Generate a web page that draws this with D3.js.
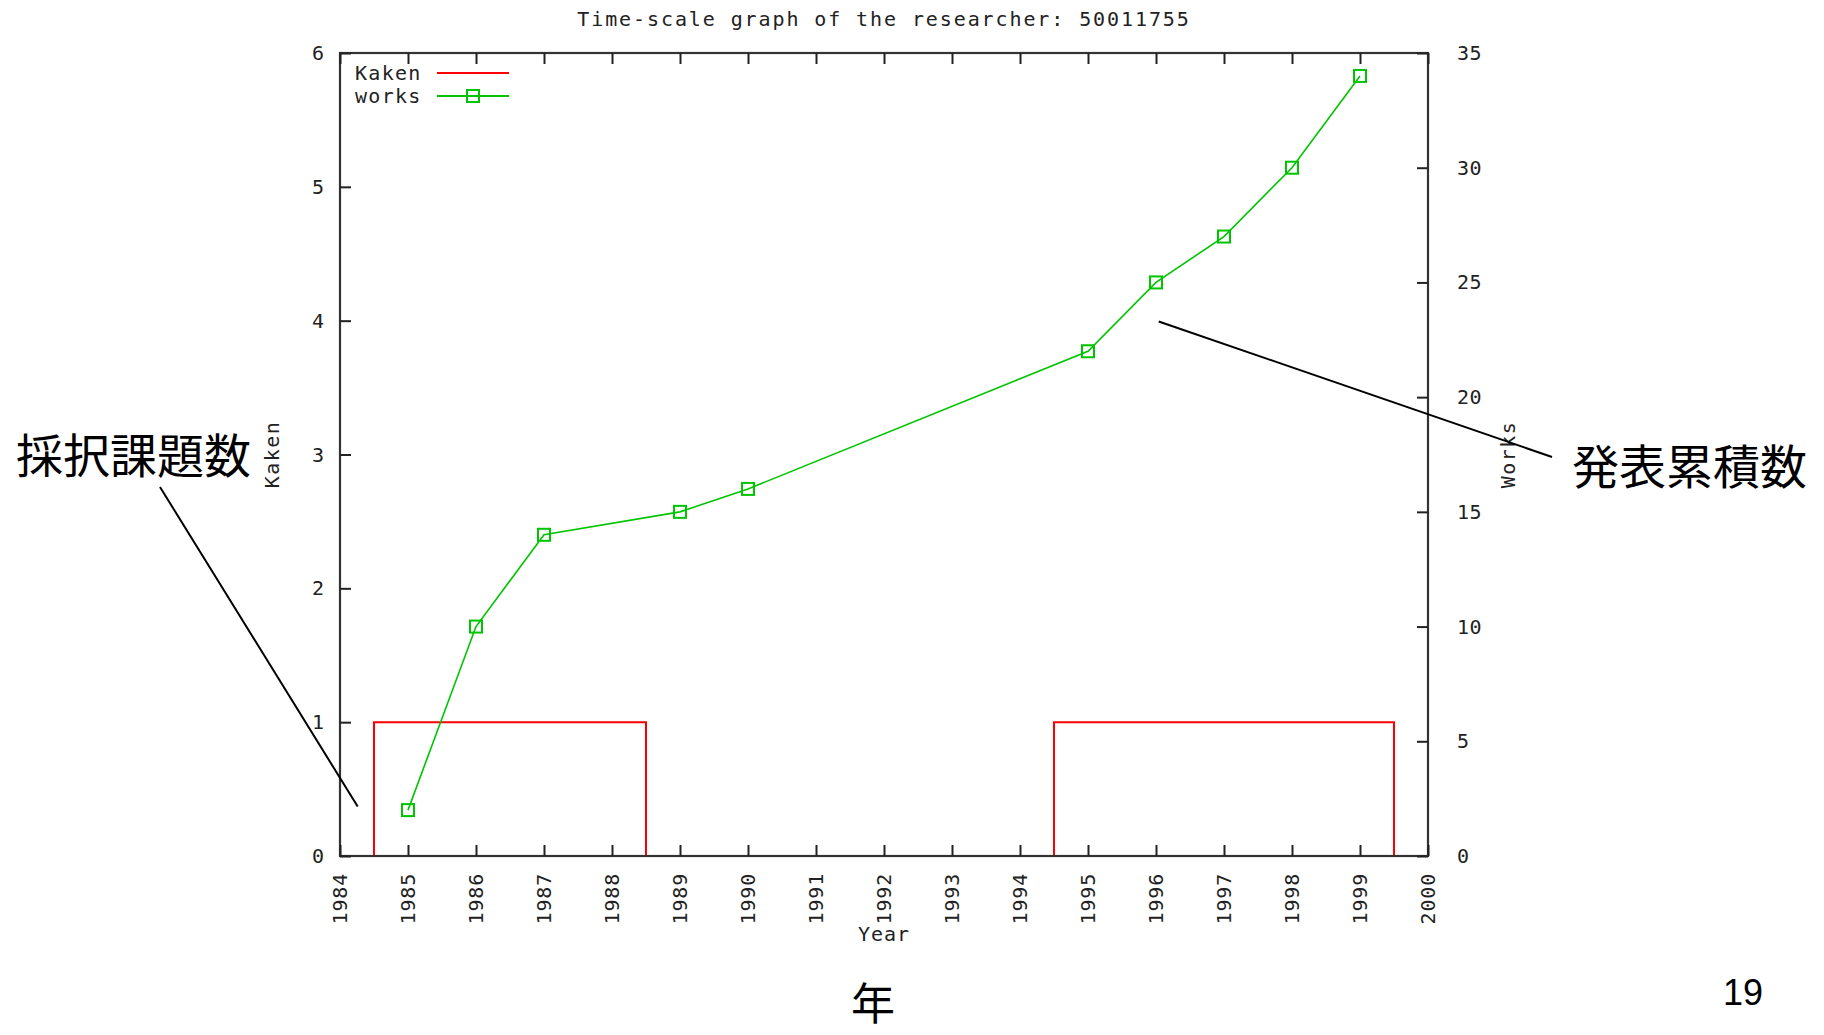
<!DOCTYPE html>
<html>
<head>
<meta charset="utf-8">
<script src="https://cdn.jsdelivr.net/npm/d3@7"></script>
<style>
  body { margin: 0; background: #fff; }
  svg { display: block; }
  .mono { font-family: "DejaVu Sans Mono", monospace; fill: #222; }
  .jp { font-family: "Noto Sans CJK JP", sans-serif; fill: #000; }
</style>
</head>
<body>
<svg id="chart" width="1824" height="1035"></svg>
<script>
// years covered by the plot and the number of Kaken grants per year
const kakenYears  = [1984, 1985, 1986, 1987, 1988, 1989, 1990, 1991, 1992, 1993, 1994, 1995, 1996, 1997, 1998, 1999, 2000];
const kakenCounts = [0, 1, 1, 1, 1, 0, 0, 0, 0, 0, 0, 1, 1, 1, 1, 1, 0];

// cumulative number of works
const worksYears  = [1985, 1986, 1987, 1989, 1990, 1995, 1996, 1997, 1998, 1999];
const worksTotals = [2, 10, 14, 15, 16, 22, 25, 27, 30, 34];

const yearTicks  = [1984, 1985, 1986, 1987, 1988, 1989, 1990, 1991, 1992, 1993, 1994, 1995, 1996, 1997, 1998, 1999, 2000];
const kakenTicks = [0, 1, 2, 3, 4, 5, 6];
const worksTicks = [0, 5, 10, 15, 20, 25, 30, 35];

const title = "Time-scale graph of the researcher: 50011755";

const svg = d3.select("#chart");
svg.append("rect").attr("width", 1824).attr("height", 1035).attr("fill", "#fff");

const margin = { top: 53, right: 396, bottom: 179, left: 340 };
const width = 1824 - margin.left - margin.right;
const height = 1035 - margin.top - margin.bottom;

const x = d3.scaleLinear().domain([1984, 2000]).range([0, width]);
const yK = d3.scaleLinear().domain([0, 6]).range([height, 0]);
const yW = d3.scaleLinear().domain([0, 35]).range([height, 0]);

const red = "#ff0000";
const green = "#00c400";
const tickLen = 11;

const g = svg.append("g")
    .attr("transform", `translate(${margin.left},${margin.top})`);

// Kaken: histogram-like steps
const kakenData = kakenYears.map((yr, i) => ({ yr, v: kakenCounts[i] }));
const kakenLine = d3.line()
    .x(d => x(d.yr))
    .y(d => yK(d.v))
    .curve(d3.curveStep);

g.append("path")
    .datum(kakenData)
    .attr("d", kakenLine)
    .attr("fill", "none")
    .attr("stroke", red)
    .attr("stroke-width", 2);

// works: cumulative line with open squares
const worksData = worksYears.map((yr, i) => ({ yr, v: worksTotals[i] }));
const worksLine = d3.line()
    .x(d => x(d.yr))
    .y(d => yW(d.v));

g.append("path")
    .datum(worksData)
    .attr("d", worksLine)
    .attr("fill", "none")
    .attr("stroke", green)
    .attr("stroke-width", 1.6);

const sq = 12;
g.selectAll(".pt").data(worksData)
    .enter()
    .append("rect")
    .attr("class", "pt")
    .attr("x", d => x(d.yr) - sq / 2)
    .attr("y", d => yW(d.v) - sq / 2)
    .attr("width", sq)
    .attr("height", sq)
    .attr("fill", "none")
    .attr("stroke", green)
    .attr("stroke-width", 2);

// frame
g.append("rect")
    .attr("width", width)
    .attr("height", height)
    .attr("fill", "none")
    .attr("stroke", "#333")
    .attr("stroke-width", 2.2);

// x ticks, bottom and mirrored on top
const xAxisB = d3.axisBottom(x).tickValues(yearTicks).tickSize(-tickLen).tickFormat("");
const xAxisT = d3.axisTop(x).tickValues(yearTicks).tickSize(-tickLen).tickFormat("");
const xB = g.append("g").attr("transform", `translate(0,${height})`).call(xAxisB);
const xT = g.append("g").call(xAxisT);
const yL = g.append("g").call(d3.axisLeft(yK).tickValues(kakenTicks).tickSize(-tickLen).tickFormat(""));
const yR = g.append("g").attr("transform", `translate(${width},0)`)
    .call(d3.axisRight(yW).tickValues(worksTicks).tickSize(-tickLen).tickFormat(""));

[xB, xT, yL, yR].forEach(a => {
    a.selectAll(".domain").remove();
    a.selectAll(".tick line").attr("stroke", "#222").attr("stroke-width", 2);
});

// tick labels
g.selectAll(".xl").data(yearTicks)
    .enter()
    .append("text")
    .attr("class", "mono")
    .attr("font-size", 20)
    .attr("letter-spacing", 0.8)
    .attr("text-anchor", "end")
    .attr("dy", "0.35em")
    .attr("transform", d => `translate(${x(d)},${height + 17}) rotate(-90)`)
    .text(d => d);

g.selectAll(".kl").data(kakenTicks)
    .enter()
    .append("text")
    .attr("class", "mono")
    .attr("font-size", 20)
    .attr("text-anchor", "end")
    .attr("x", -16)
    .attr("y", d => yK(d))
    .attr("dy", "0.35em")
    .text(d => d);

g.selectAll(".wl").data(worksTicks)
    .enter()
    .append("text")
    .attr("class", "mono")
    .attr("font-size", 20)
    .attr("letter-spacing", 0.5)
    .attr("x", width + 29)
    .attr("y", d => yW(d))
    .attr("dy", "0.35em")
    .text(d => d);

// axis labels and title
svg.append("text")
    .attr("class", "mono")
    .attr("font-size", 20)
    .attr("letter-spacing", 1.9)
    .attr("text-anchor", "middle")
    .attr("x", margin.left + width / 2)
    .attr("y", 26)
    .text(title);

svg.append("text")
    .attr("class", "mono")
    .attr("font-size", 20)
    .attr("letter-spacing", 1)
    .attr("text-anchor", "middle")
    .attr("x", margin.left + width / 2)
    .attr("y", 941)
    .text("Year");

g.append("text")
    .attr("class", "mono")
    .attr("font-size", 20)
    .attr("letter-spacing", 1.5)
    .attr("text-anchor", "middle")
    .attr("dy", "0.35em")
    .attr("transform", `translate(-68,${height / 2}) rotate(-90)`)
    .text("Kaken");

g.append("text")
    .attr("class", "mono")
    .attr("font-size", 20)
    .attr("letter-spacing", 1.5)
    .attr("text-anchor", "middle")
    .attr("dy", "0.35em")
    .attr("transform", `translate(${width + 80},${height / 2}) rotate(-90)`)
    .text("Works");

// legend
const legend = g.append("g").attr("transform", "translate(15,20)");
const legendItems = [
    { name: "Kaken", color: red, marker: false },
    { name: "works", color: green, marker: true }
];
legendItems.forEach((item, i) => {
    const row = legend.append("g").attr("transform", `translate(0,${i * 23})`);
    row.append("text")
        .attr("class", "mono")
        .attr("font-size", 20)
        .attr("letter-spacing", 1.3)
        .attr("dy", "0.35em")
        .text(item.name);
    row.append("line")
        .attr("x1", 82).attr("x2", 154)
        .attr("stroke", item.color)
        .attr("stroke-width", 2);
    if (item.marker) {
        row.append("rect")
            .attr("x", 118 - sq / 2).attr("y", -sq / 2)
            .attr("width", sq).attr("height", sq)
            .attr("fill", "none")
            .attr("stroke", item.color)
            .attr("stroke-width", 2);
    }
});

// slide annotations: leader lines point into the plot in data coordinates
const annotations = [
    { text: "採択課題数", tx: 16, ty: 473, lx: 160, ly: 487, px: x(1984.26), py: yK(0.37) },
    { text: "発表累積数", tx: 1572, ty: 484, lx: 1552, ly: 457, px: x(1996.04), py: yW(23.3) }
];
annotations.forEach(a => {
    svg.append("text")
        .attr("class", "jp")
        .attr("font-size", 47)
        .attr("x", a.tx)
        .attr("y", a.ty)
        .text(a.text);
    svg.append("line")
        .attr("x1", a.lx).attr("y1", a.ly)
        .attr("x2", margin.left + a.px).attr("y2", margin.top + a.py)
        .attr("stroke", "#000")
        .attr("stroke-width", 2);
});

svg.append("text")
    .attr("class", "jp")
    .attr("font-size", 44)
    .attr("text-anchor", "middle")
    .attr("x", 873)
    .attr("y", 1020)
    .text("年");

svg.append("text")
    .attr("font-family", "Liberation Sans, Arial, sans-serif")
    .attr("font-size", 36)
    .attr("x", 1723)
    .attr("y", 1005)
    .text("19");
</script>
</body>
</html>
